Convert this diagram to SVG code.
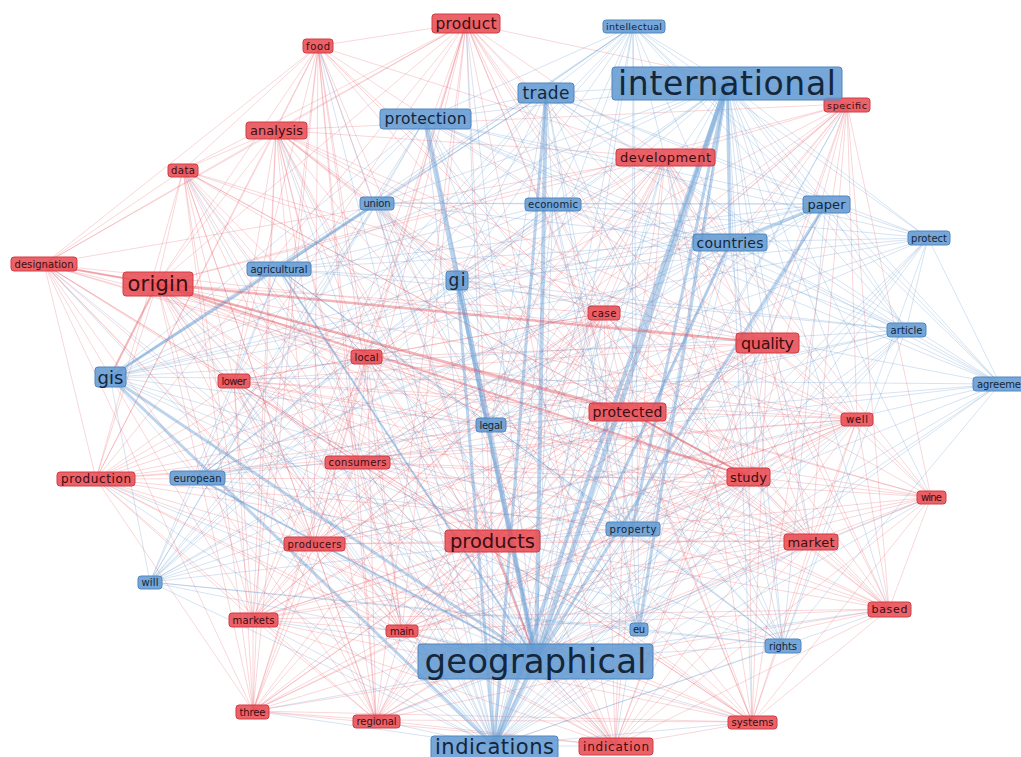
<svg xmlns="http://www.w3.org/2000/svg" width="1021" height="757" viewBox="0 0 1021 757">
<style>
.er{fill:none;stroke:#e5545e;stroke-opacity:.23;stroke-width:1}
.eb{fill:none;stroke:#5590ca;stroke-opacity:.24;stroke-width:1}
.bk{stroke:#6a9fd4;stroke-opacity:.45;stroke-linecap:round}
.rk{stroke:#e2505a;stroke-opacity:.42;stroke-linecap:round}
.r rect{fill:#e8484f;fill-opacity:.86;stroke:#d03c45;stroke-width:1}
.b rect{fill:#6199d2;fill-opacity:.86;stroke:#5087be;stroke-width:1}
text{font-family:"DejaVu Sans","Liberation Sans",sans-serif;text-anchor:middle;dominant-baseline:central}
.r text{fill:#3c0d12}
.b text{fill:#13263a}
</style>
<rect width="1021" height="757" fill="#ffffff"/>
<g id="connectors">
<g id="edges-red">
<path class="er" d="M466 23L318 46M466 23L276 130M466 23L183 170M466 23L157 284M466 23L44 264M466 23L604 313M466 23L767 343M466 23L627 411M466 23L749 477M466 23L492 541M466 23L357 462M466 23L367 357M466 23L314 544M466 23L811 541M466 23L857 419M466 23L847 104M466 23L665 157M466 23L253 619M466 23L402 631M466 23L615 746M466 23L234 381M466 23L376 720M466 23L253 711M466 23L752 722M466 23L889 609M466 23L96 479"/>
<path class="er" d="M318 46L276 130M318 46L183 170M318 46L157 284M318 46L44 264M318 46L234 381M318 46L367 357M318 46L357 462M318 46L96 479M318 46L492 541M318 46L314 544M318 46L767 343M318 46L627 411M318 46L604 313M318 46L665 157M318 46L253 619M318 46L402 631M318 46L253 711M318 46L376 720M318 46L749 477M318 46L615 746"/>
<path class="er" d="M276 130L183 170M276 130L157 284M276 130L44 264M276 130L96 479M276 130L234 381M276 130L367 357M276 130L357 462M276 130L314 544M276 130L492 541M276 130L253 619M276 130L402 631M276 130L253 711M276 130L627 411M276 130L767 343M276 130L749 477M276 130L604 313M276 130L665 157M276 130L811 541M276 130L615 746M276 130L376 720M276 130L847 104M276 130L857 419M276 130L889 609M276 130L752 722"/>
<path class="er" d="M183 170L44 264M183 170L157 284M183 170L96 479M183 170L234 381M183 170L367 357M183 170L357 462M183 170L314 544M183 170L492 541M183 170L253 619M183 170L253 711M183 170L627 411M183 170L767 343M183 170L604 313M183 170L402 631M183 170L376 720M183 170L749 477M183 170L615 746M183 170L811 541"/>
<path class="er" d="M44 264L157 284M44 264L96 479M44 264L234 381M44 264L367 357M44 264L357 462M44 264L492 541M44 264L314 544M44 264L253 619M44 264L253 711M44 264L627 411M44 264L767 343M44 264L376 720M44 264L402 631M44 264L749 477M44 264L615 746M44 264L665 157"/>
<path class="er" d="M157 284L96 479M157 284L234 381M157 284L367 357M157 284L357 462M157 284L492 541M157 284L314 544M157 284L253 619M157 284L402 631M157 284L253 711M157 284L376 720M157 284L604 313M157 284L665 157M157 284L857 419M157 284L889 609M157 284L931 497M157 284L615 746M157 284L752 722M157 284L811 541M157 284L847 104"/>
<path class="er" d="M665 157L767 343M665 157L627 411M665 157L749 477M665 157L604 313M665 157L811 541M665 157L857 419M665 157L931 497M665 157L889 609M665 157L752 722M665 157L615 746M665 157L492 541M665 157L357 462M665 157L367 357M665 157L314 544M665 157L253 619M665 157L847 104M665 157L234 381M665 157L376 720M665 157L402 631M665 157L253 711M665 157L96 479"/>
<path class="er" d="M847 104L767 343M847 104L749 477M847 104L811 541M847 104L857 419M847 104L931 497M847 104L889 609M847 104L627 411M847 104L604 313M847 104L752 722M847 104L615 746M847 104L492 541M847 104L357 462M847 104L367 357M847 104L314 544M847 104L253 619M847 104L402 631"/>
<path class="er" d="M604 313L767 343M604 313L627 411M604 313L749 477M604 313L811 541M604 313L857 419M604 313L367 357M604 313L357 462M604 313L492 541M604 313L314 544M604 313L253 619M604 313L615 746M604 313L752 722M604 313L889 609M604 313L234 381M604 313L402 631M604 313L376 720M604 313L253 711M604 313L96 479M604 313L931 497"/>
<path class="er" d="M767 343L627 411M767 343L749 477M767 343L811 541M767 343L857 419M767 343L931 497M767 343L889 609M767 343L752 722M767 343L615 746M767 343L492 541M767 343L357 462M767 343L314 544M767 343L253 619M767 343L367 357M767 343L234 381M767 343L253 711M767 343L376 720M767 343L402 631M767 343L96 479"/>
<path class="er" d="M367 357L234 381M367 357L357 462M367 357L314 544M367 357L492 541M367 357L253 619M367 357L402 631M367 357L253 711M367 357L376 720M367 357L627 411M367 357L749 477M367 357L811 541M367 357L615 746M367 357L96 479M367 357L857 419M367 357L752 722M367 357L889 609"/>
<path class="er" d="M234 381L357 462M234 381L96 479M234 381L314 544M234 381L492 541M234 381L253 619M234 381L402 631M234 381L253 711M234 381L376 720M234 381L627 411M234 381L749 477M234 381L811 541M234 381L889 609M234 381L857 419M234 381L615 746M234 381L752 722M234 381L931 497"/>
<path class="er" d="M627 411L749 477M627 411L811 541M627 411L857 419M627 411L931 497M627 411L889 609M627 411L752 722M627 411L615 746M627 411L492 541M627 411L357 462M627 411L314 544M627 411L253 619M627 411L402 631M627 411L376 720M627 411L253 711M627 411L96 479"/>
<path class="er" d="M857 419L749 477M857 419L811 541M857 419L931 497M857 419L889 609M857 419L752 722M857 419L615 746M857 419L492 541M857 419L357 462M857 419L314 544M857 419L376 720M857 419L96 479M857 419L253 619M857 419L402 631M857 419L253 711"/>
<path class="er" d="M357 462L96 479M357 462L314 544M357 462L492 541M357 462L253 619M357 462L402 631M357 462L253 711M357 462L376 720M357 462L749 477M357 462L811 541M357 462L615 746M357 462L752 722M357 462L889 609M357 462L931 497"/>
<path class="er" d="M96 479L314 544M96 479L492 541M96 479L253 619M96 479L402 631M96 479L253 711M96 479L376 720M96 479L749 477M96 479L811 541M96 479L615 746M96 479L752 722"/>
<path class="er" d="M749 477L811 541M749 477L931 497M749 477L889 609M749 477L752 722M749 477L615 746M749 477L492 541M749 477L314 544M749 477L253 619M749 477L402 631M749 477L376 720M749 477L253 711"/>
<path class="er" d="M931 497L811 541M931 497L889 609M931 497L752 722M931 497L615 746M931 497L492 541M931 497L253 619M931 497L376 720M931 497L402 631"/>
<path class="er" d="M314 544L492 541M314 544L253 619M314 544L402 631M314 544L253 711M314 544L376 720M314 544L811 541M314 544L615 746M314 544L752 722"/>
<path class="er" d="M492 541L253 619M492 541L402 631M492 541L253 711M492 541L376 720M492 541L811 541M492 541L615 746M492 541L752 722M492 541L889 609"/>
<path class="er" d="M811 541L889 609M811 541L752 722M811 541L615 746M811 541L253 619M811 541L402 631M811 541L376 720M811 541L253 711"/>
<path class="er" d="M253 619L402 631M253 619L253 711M253 619L376 720M253 619L615 746M253 619L752 722M253 619L889 609M402 631L253 711M402 631L376 720M402 631L615 746M402 631L752 722M402 631L889 609M889 609L752 722M889 609L615 746M889 609L376 720M889 609L253 711M253 711L376 720M253 711L615 746M253 711L752 722M376 720L615 746M376 720L752 722M752 722L615 746"/>
</g>
<g id="edges-blue">
<path class="eb" d="M536 660L466 23M536 660L318 46M536 660L276 130M536 660L183 170M536 660L44 264M536 660L157 284M536 660L665 157M536 660L847 104M536 660L604 313M536 660L767 343M536 660L367 357M536 660L234 381M536 660L627 411M536 660L857 419M536 660L357 462M536 660L96 479M536 660L749 477M536 660L931 497M536 660L314 544M536 660L811 541M536 660L253 619M536 660L402 631M536 660L889 609M536 660L253 711M536 660L376 720M536 660L752 722M536 660L615 746"/>
<path class="eb" d="M494 746L466 23M494 746L318 46M494 746L276 130M494 746L183 170M494 746L44 264M494 746L157 284M494 746L665 157M494 746L847 104M494 746L604 313M494 746L767 343M494 746L367 357M494 746L234 381M494 746L627 411M494 746L857 419M494 746L357 462M494 746L96 479M494 746L749 477M494 746L931 497M494 746L314 544M494 746L811 541M494 746L253 619M494 746L402 631M494 746L889 609M494 746L253 711M494 746L376 720M494 746L752 722M494 746L615 746"/>
<path class="eb" d="M633 26L727 83M633 26L546 93M633 26L425 119M633 26L377 203M633 26L553 204M633 26L826 204M633 26L730 242M633 26L928 238M633 26L906 330M633 26L1000 384M633 26L457 280M633 26L110 377M633 26L491 425M633 26L632 529M633 26L639 629M633 26L783 645M633 26L197 478M633 26L279 269M633 26L150 582M633 26L536 660M633 26L494 746"/>
<path class="eb" d="M727 83L546 93M727 83L425 119M727 83L377 203M727 83L553 204M727 83L826 204M727 83L928 238M727 83L906 330M727 83L1000 384M727 83L457 280M727 83L110 377M727 83L491 425M727 83L783 645M727 83L197 478M727 83L279 269M727 83L150 582M727 83L767 343M727 83L627 411M727 83L749 477M727 83L811 541M727 83L604 313M727 83L857 419M727 83L889 609M727 83L931 497M727 83L752 722M727 83L615 746"/>
<path class="eb" d="M546 93L425 119M546 93L377 203M546 93L553 204M546 93L826 204M546 93L730 242M546 93L928 238M546 93L906 330M546 93L1000 384M546 93L457 280M546 93L110 377M546 93L491 425M546 93L632 529M546 93L639 629M546 93L783 645M546 93L197 478M546 93L279 269M546 93L150 582"/>
<path class="eb" d="M425 119L377 203M425 119L553 204M425 119L826 204M425 119L730 242M425 119L110 377M425 119L491 425M425 119L632 529M425 119L639 629M425 119L783 645M425 119L197 478M425 119L279 269M425 119L150 582M425 119L906 330M425 119L928 238M425 119L494 746M425 119L1000 384"/>
<path class="eb" d="M377 203L553 204M377 203L457 280M377 203L491 425M377 203L197 478M377 203L150 582M377 203L536 660M377 203L494 746M377 203L632 529M377 203L730 242M377 203L279 269M377 203L639 629M377 203L783 645M377 203L826 204"/>
<path class="eb" d="M553 204L826 204M553 204L730 242M553 204L457 280M553 204L491 425M553 204L632 529M553 204L639 629M553 204L783 645M553 204L536 660M553 204L494 746M553 204L110 377M553 204L906 330M553 204L1000 384M553 204L197 478M553 204L279 269M553 204L150 582M553 204L928 238"/>
<path class="eb" d="M826 204L928 238M826 204L906 330M826 204L1000 384M826 204L632 529M826 204L783 645M826 204L494 746M826 204L639 629M826 204L491 425M826 204L457 280M826 204L110 377M826 204L197 478M826 204L279 269M826 204L150 582"/>
<path class="eb" d="M730 242L928 238M730 242L906 330M730 242L1000 384M730 242L632 529M730 242L783 645M730 242L494 746M730 242L639 629M730 242L491 425M730 242L457 280M730 242L110 377M730 242L197 478M730 242L279 269M730 242L150 582"/>
<path class="eb" d="M928 238L906 330M928 238L1000 384M928 238L632 529M928 238L783 645M928 238L536 660M928 238L494 746M928 238L639 629M928 238L491 425M928 238L457 280M928 238L110 377M928 238L197 478"/>
<path class="eb" d="M279 269L110 377M279 269L457 280M279 269L491 425M279 269L197 478M279 269L150 582M279 269L536 660M279 269L494 746M279 269L632 529M279 269L639 629M279 269L783 645M279 269L906 330"/>
<path class="eb" d="M457 280L110 377M457 280L491 425M457 280L197 478M457 280L632 529M457 280L639 629M457 280L783 645M457 280L150 582M457 280L906 330M457 280L1000 384"/>
<path class="eb" d="M906 330L1000 384M906 330L632 529M906 330L783 645M906 330L536 660M906 330L494 746M906 330L639 629M906 330L491 425M906 330L110 377M906 330L197 478M906 330L150 582"/>
<path class="eb" d="M110 377L491 425M110 377L197 478M110 377L150 582M110 377L632 529M110 377L639 629M110 377L783 645M110 377L1000 384"/>
<path class="eb" d="M1000 384L632 529M1000 384L783 645M1000 384L536 660M1000 384L494 746M1000 384L639 629M1000 384L491 425M1000 384L197 478M1000 384L150 582"/>
<path class="eb" d="M491 425L197 478M491 425L632 529M491 425L536 660M491 425L494 746M491 425L639 629M491 425L783 645M491 425L150 582M197 478L150 582M197 478L536 660M197 478L494 746M197 478L632 529M197 478L639 629M197 478L783 645"/>
<path class="eb" d="M632 529L536 660M632 529L494 746M632 529L639 629M632 529L783 645M632 529L150 582M150 582L536 660M150 582L494 746M150 582L639 629M150 582L783 645M639 629L536 660M639 629L494 746M639 629L783 645M783 645L536 660M783 645L494 746"/>
</g>
<g id="edges-strong">
<line class="bk" stroke-width="5" x1="727" y1="83" x2="536" y2="660"/>
<line class="bk" stroke-width="5" x1="425" y1="119" x2="536" y2="660"/>
<line class="bk" stroke-width="4" x1="727" y1="83" x2="494" y2="746"/>
<line class="bk" stroke-width="4" x1="546" y1="93" x2="536" y2="660"/>
<line class="bk" stroke-width="4" x1="536" y1="660" x2="494" y2="746"/>
<line class="bk" stroke-width="3" x1="457" y1="280" x2="494" y2="746"/>
<line class="bk" stroke-width="3" x1="546" y1="93" x2="494" y2="746"/>
<line class="bk" stroke-width="3" x1="826" y1="204" x2="730" y2="242"/>
<line class="bk" stroke-width="3" x1="110" y1="377" x2="377" y2="203"/>
<line class="bk" stroke-width="3" x1="110" y1="377" x2="536" y2="660"/>
<line class="bk" stroke-width="3" x1="110" y1="377" x2="494" y2="746"/>
<line class="bk" stroke-width="3" x1="730" y1="242" x2="536" y2="660"/>
<line class="bk" stroke-width="3" x1="826" y1="204" x2="536" y2="660"/>
<line class="bk" stroke-width="3" x1="727" y1="83" x2="632" y2="529"/>
<line class="bk" stroke-width="3" x1="727" y1="83" x2="639" y2="629"/>
<line class="bk" stroke-width="3" x1="727" y1="83" x2="730" y2="242"/>
<line class="bk" stroke-width="3" x1="457" y1="280" x2="536" y2="660"/>
<line class="bk" stroke-width="2" x1="279" y1="269" x2="536" y2="660"/>
<line class="bk" stroke-width="2" x1="197" y1="478" x2="536" y2="660"/>
<line class="rk" stroke-width="2.5" x1="157" y1="284" x2="627" y2="411"/>
<line class="rk" stroke-width="2.5" x1="157" y1="284" x2="767" y2="343"/>
<line class="rk" stroke-width="2" x1="157" y1="284" x2="749" y2="477"/>
<line class="rk" stroke-width="2" x1="157" y1="284" x2="110" y2="377"/>
<line class="rk" stroke-width="2" x1="44" y1="264" x2="157" y2="284"/>
<line class="rk" stroke-width="2" x1="627" y1="411" x2="749" y2="477"/>
<line class="rk" stroke-width="2" x1="492" y1="541" x2="536" y2="660"/>
</g>
</g>
<g id="nodes">
<g id="n-product" class="r"><rect x="432" y="14" width="68" height="19" rx="3"/><text x="466" y="23.5" font-size="15.5" textLength="61">product</text></g>
<g id="n-food" class="r"><rect x="303" y="39" width="30" height="14" rx="3"/><text x="318" y="46" font-size="10" textLength="24">food</text></g>
<g id="n-analysis" class="r"><rect x="246" y="122" width="61" height="17" rx="3"/><text x="276.5" y="130.5" font-size="13" textLength="53">analysis</text></g>
<g id="n-data" class="r"><rect x="168" y="164" width="30" height="13" rx="3"/><text x="183" y="170.5" font-size="10" textLength="24">data</text></g>
<g id="n-designation" class="r"><rect x="11" y="257" width="66" height="14" rx="3"/><text x="44" y="264" font-size="10" textLength="59">designation</text></g>
<g id="n-origin" class="r"><rect x="123" y="272" width="70" height="24" rx="3"/><text x="158" y="284" font-size="21" textLength="61">origin</text></g>
<g id="n-development" class="r"><rect x="616" y="149" width="99" height="17" rx="3"/><text x="665.5" y="157.5" font-size="13" textLength="91">development</text></g>
<g id="n-specific" class="r"><rect x="824" y="98" width="46" height="14" rx="3"/><text x="847" y="105.5" font-size="9.5" textLength="40">specific</text></g>
<g id="n-case" class="r"><rect x="588" y="306" width="32" height="14" rx="3"/><text x="604" y="313" font-size="10" textLength="25">case</text></g>
<g id="n-quality" class="r"><rect x="736" y="333" width="63" height="20" rx="3"/><text x="767.5" y="343" font-size="16" textLength="53">quality</text></g>
<g id="n-local" class="r"><rect x="351" y="350" width="31" height="14" rx="3"/><text x="366.5" y="357" font-size="10" textLength="24">local</text></g>
<g id="n-lower" class="r"><rect x="218" y="374" width="32" height="14" rx="3"/><text x="234" y="381" font-size="10" textLength="25">lower</text></g>
<g id="n-protected" class="r"><rect x="589" y="403" width="77" height="18" rx="3"/><text x="627.5" y="412" font-size="14" textLength="70">protected</text></g>
<g id="n-well" class="r"><rect x="841" y="413" width="32" height="13" rx="3"/><text x="857" y="419.5" font-size="10" textLength="22">well</text></g>
<g id="n-consumers" class="r"><rect x="325" y="456" width="65" height="13" rx="3"/><text x="357.5" y="462.5" font-size="10" textLength="58">consumers</text></g>
<g id="n-production" class="r"><rect x="57" y="472" width="78" height="14" rx="3"/><text x="96" y="479" font-size="12" textLength="70">production</text></g>
<g id="n-study" class="r"><rect x="727" y="468" width="43" height="18" rx="3"/><text x="748.5" y="477" font-size="13" textLength="37">study</text></g>
<g id="n-wine" class="r"><rect x="917" y="491" width="29" height="13" rx="3"/><text x="931.5" y="497.5" font-size="10" textLength="21">wine</text></g>
<g id="n-producers" class="r"><rect x="284" y="537" width="61" height="14" rx="3"/><text x="314.5" y="544" font-size="10" textLength="54">producers</text></g>
<g id="n-products" class="r"><rect x="445" y="530" width="95" height="22" rx="3"/><text x="492.5" y="541" font-size="19.5" textLength="85">products</text></g>
<g id="n-market" class="r"><rect x="784" y="534" width="54" height="16" rx="3"/><text x="811" y="542" font-size="13" textLength="47">market</text></g>
<g id="n-markets" class="r"><rect x="229" y="613" width="49" height="14" rx="3"/><text x="253.5" y="620" font-size="10" textLength="42">markets</text></g>
<g id="n-main" class="r"><rect x="386" y="625" width="32" height="12" rx="3"/><text x="402" y="631" font-size="10" textLength="24">main</text></g>
<g id="n-based" class="r"><rect x="868" y="602" width="43" height="15" rx="3"/><text x="889.5" y="609.5" font-size="11" textLength="36">based</text></g>
<g id="n-three" class="r"><rect x="236" y="705" width="33" height="14" rx="3"/><text x="252.5" y="712" font-size="10" textLength="26">three</text></g>
<g id="n-regional" class="r"><rect x="353" y="715" width="47" height="13" rx="3"/><text x="376.5" y="721.5" font-size="10" textLength="40">regional</text></g>
<g id="n-systems" class="r"><rect x="728" y="716" width="49" height="13" rx="3"/><text x="752.5" y="722.5" font-size="10" textLength="42">systems</text></g>
<g id="n-indication" class="r"><rect x="579" y="738" width="74" height="17" rx="3"/><text x="616" y="746.5" font-size="12" textLength="66">indication</text></g>
<g id="n-intellectual" class="b"><rect x="603" y="20" width="62" height="13" rx="3"/><text x="634" y="26.5" font-size="9.5" textLength="56">intellectual</text></g>
<g id="n-international" class="b"><rect x="612" y="67" width="230" height="33" rx="3"/><text x="727" y="83" font-size="33" textLength="218">international</text></g>
<g id="n-trade" class="b"><rect x="518" y="83" width="56" height="20" rx="3"/><text x="546" y="93" font-size="17" textLength="47">trade</text></g>
<g id="n-protection" class="b"><rect x="380" y="109" width="91" height="20" rx="3"/><text x="425.5" y="119" font-size="15.5" textLength="82">protection</text></g>
<g id="n-union" class="b"><rect x="360" y="197" width="34" height="13" rx="3"/><text x="377" y="203.5" font-size="10" textLength="27">union</text></g>
<g id="n-economic" class="b"><rect x="525" y="198" width="56" height="13" rx="3"/><text x="553" y="204.5" font-size="10" textLength="50">economic</text></g>
<g id="n-paper" class="b"><rect x="803" y="196" width="47" height="17" rx="3"/><text x="826.5" y="204.5" font-size="13" textLength="38">paper</text></g>
<g id="n-countries" class="b"><rect x="693" y="234" width="74" height="17" rx="3"/><text x="730" y="242.5" font-size="14" textLength="67">countries</text></g>
<g id="n-protect" class="b"><rect x="908" y="231" width="42" height="14" rx="3"/><text x="929" y="238" font-size="10" textLength="36">protect</text></g>
<g id="n-agricultural" class="b"><rect x="247" y="262" width="64" height="14" rx="3"/><text x="279" y="269" font-size="10" textLength="57">agricultural</text></g>
<g id="n-gi" class="b"><rect x="446" y="271" width="22" height="19" rx="3"/><text x="457" y="280" font-size="17" textLength="17">gi</text></g>
<g id="n-article" class="b"><rect x="887" y="323" width="39" height="14" rx="3"/><text x="906.5" y="330" font-size="10" textLength="32">article</text></g>
<g id="n-gis" class="b"><rect x="95" y="367" width="31" height="20" rx="3"/><text x="110.5" y="377" font-size="18" textLength="26">gis</text></g>
<g id="n-agreement" class="b"><rect x="973" y="377" width="52" height="14" rx="3"/><text x="977" y="384" font-size="10" textLength="44" style="text-anchor:start">agreeme</text></g>
<g id="n-legal" class="b"><rect x="476" y="418" width="30" height="14" rx="3"/><text x="491" y="425" font-size="10" textLength="23">legal</text></g>
<g id="n-european" class="b"><rect x="170" y="471" width="55" height="14" rx="3"/><text x="197.5" y="478" font-size="10" textLength="48">european</text></g>
<g id="n-property" class="b"><rect x="606" y="522" width="54" height="14" rx="3"/><text x="633" y="529" font-size="10" textLength="47">property</text></g>
<g id="n-will" class="b"><rect x="138" y="576" width="24" height="13" rx="3"/><text x="150" y="582.5" font-size="10" textLength="17">will</text></g>
<g id="n-eu" class="b"><rect x="630" y="623" width="18" height="13" rx="3"/><text x="639" y="629.5" font-size="10" textLength="12">eu</text></g>
<g id="n-rights" class="b"><rect x="765" y="639" width="36" height="14" rx="3"/><text x="783" y="646" font-size="10" textLength="28">rights</text></g>
<g id="n-geographical" class="b"><rect x="418" y="644" width="235" height="35" rx="3"/><text x="535.5" y="661" font-size="34" textLength="222">geographical</text></g>
<g id="n-indications" class="b"><rect x="431" y="736" width="127" height="25" rx="3"/><text x="494.5" y="747" font-size="21" textLength="119">indications</text></g>
</g>
</svg>
